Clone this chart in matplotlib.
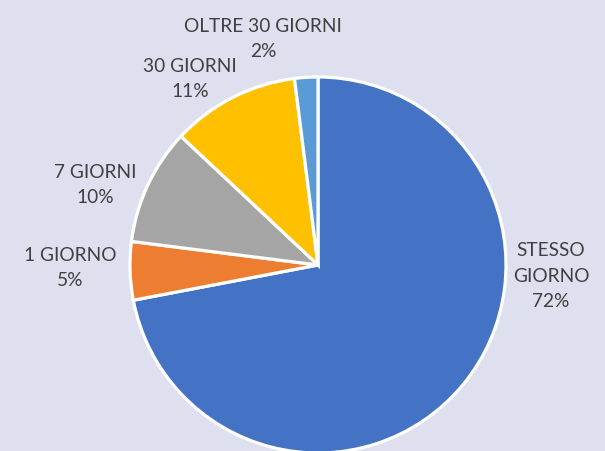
import matplotlib.pyplot as plt

categories = ["STESSO\nGIORNO", "1 GIORNO", "7 GIORNI", "30 GIORNI", "OLTRE 30 GIORNI"]
percentages = [72, 5, 10, 11, 2]
colors = ["#4472C4", "#ED7D31", "#A5A5A5", "#FFC000", "#5B9BD5"]

# where each label block sits (pixel-ish coords, origin bottom-left)
label_pos = [(551, 175), (70, 183), (95, 266), (190, 372), (263, 412)]

bg = "#DEE0EF"
fig = plt.figure(figsize=(6.05, 4.51), dpi=100, facecolor=bg)
ax = fig.add_axes([0, 0, 1, 1])
ax.set_facecolor(bg)

ax.pie(percentages, colors=colors, startangle=90, counterclock=False,
       center=(318, 186), radius=188,
       wedgeprops=dict(edgecolor="white", linewidth=2.3))

# pie() rescales the axes, so fix the frame afterwards
ax.set_xlim(0, 605)
ax.set_ylim(0, 451)
ax.set_aspect("equal")
ax.axis("off")

for name, pct, (x, y) in zip(categories, percentages, label_pos):
    ax.text(x, y, f"{name}\n{pct}%", ha="center", va="center",
            fontsize=13.8, color="#404040", family="Lato",
            linespacing=1.6)

fig.savefig("out.png", dpi=100, facecolor=bg)
